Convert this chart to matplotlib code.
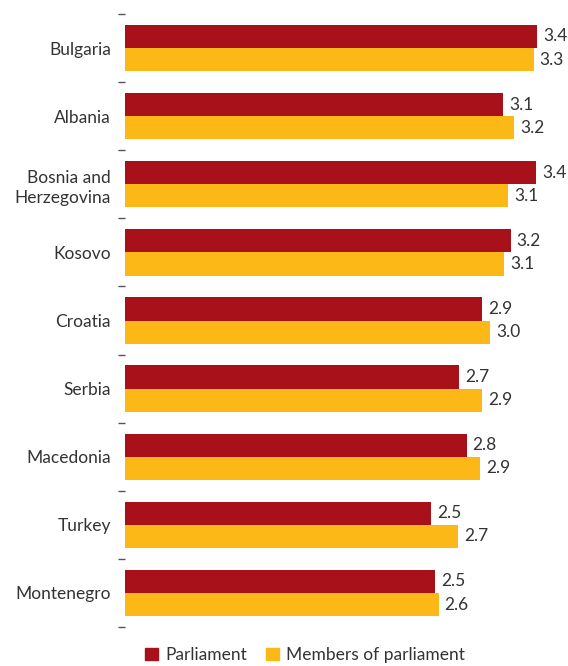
import matplotlib.pyplot as plt
import numpy as np
from matplotlib.patches import Patch

countries = ['Bulgaria', 'Albania', 'Bosnia and\nHerzegovina', 'Kosovo', 'Croatia',
             'Serbia', 'Macedonia', 'Turkey', 'Montenegro']
parliament = [3.38, 3.10, 3.37, 3.16, 2.93, 2.74, 2.80, 2.51, 2.54]
members = [3.35, 3.19, 3.14, 3.11, 2.99, 2.93, 2.91, 2.73, 2.57]
parl_labels = ['3.4', '3.1', '3.4', '3.2', '2.9', '2.7', '2.8', '2.5', '2.5']
memb_labels = ['3.3', '3.2', '3.1', '3.1', '3.0', '2.9', '2.9', '2.7', '2.6']

red = '#a8101a'
yellow = '#fbb817'
txt = '#333333'

plt.rcParams['font.family'] = ['Lato', 'DejaVu Sans']

fig = plt.figure(figsize=(5.68, 6.66), dpi=100)
W, H = 568, 666
ax = fig.add_axes([125 / W, 1 - 627 / H, (560 - 125) / W, (627 - 14) / H])

n = len(countries)
y = np.arange(n)
h = 0.34
ax.barh(y - h / 2, parliament, height=h, color=red)
ax.barh(y + h / 2, members, height=h, color=yellow)

fs = 12.5
for i in range(n):
    ax.text(parliament[i] + 0.05, y[i] - h / 2, parl_labels[i], va='center', ha='left',
            fontsize=fs, color=txt)
    ax.text(members[i] + 0.05, y[i] + h / 2, memb_labels[i], va='center', ha='left',
            fontsize=fs, color=txt)

ax.set_xlim(0, 435 / 122)
ax.set_ylim(n - 0.5, -0.5)
ax.set_yticks(y)
ax.set_yticklabels(countries, fontsize=fs, color=txt, linespacing=1.3)
ax.set_yticks(np.arange(n + 1) - 0.5, minor=True)
ax.tick_params(axis='y', which='major', length=0, pad=10)
ax.tick_params(axis='y', which='minor', length=5, width=1, color='#555555', direction='out')
ax.set_xticks([])
for s in ax.spines.values():
    s.set_visible(False)

handles = [Patch(color=red, label='Parliament'), Patch(color=yellow, label='Members of parliament')]
fig.legend(handles=handles, loc='center', bbox_to_anchor=(305 / W, 1 - 655 / H), ncol=2,
           frameon=False, fontsize=fs, handlelength=0.75, handleheight=0.75,
           handletextpad=0.4, columnspacing=1.1, labelcolor=txt)

fig.savefig('out.png', dpi=100)
